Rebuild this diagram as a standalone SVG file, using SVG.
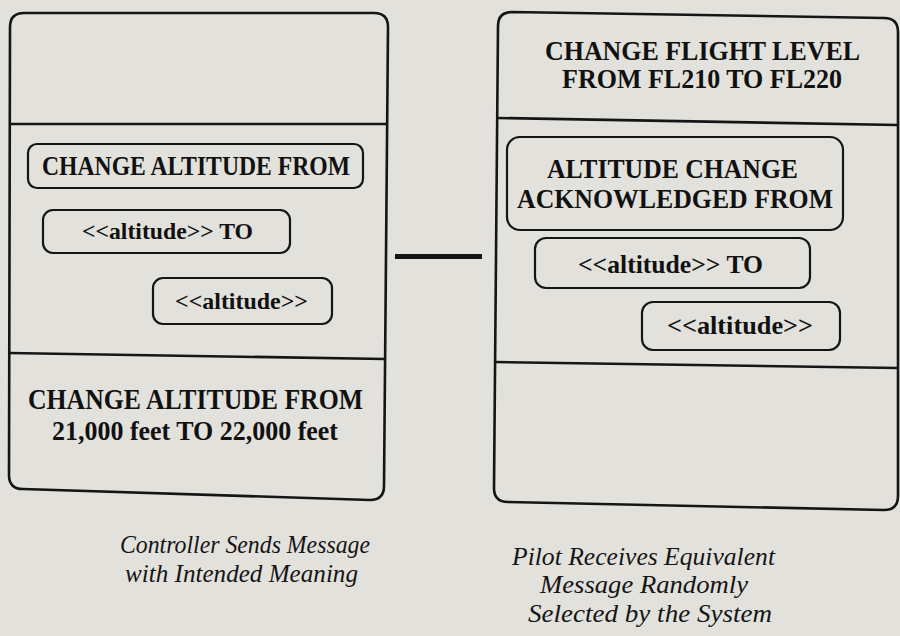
<svg xmlns="http://www.w3.org/2000/svg" width="900" height="636" viewBox="0 0 900 636">
<style>
.bg{fill:#e2e1dc}
.outer{fill:none;stroke:#151515;stroke-width:2.6;stroke-linejoin:round}
.div{stroke:#151515;stroke-width:2.6}
.inner{fill:none;stroke:#151515;stroke-width:2.2}
.b{font-family:"Liberation Serif","Times New Roman",serif;font-weight:bold;fill:#111;text-anchor:middle}
.cap{font-family:"Liberation Serif","Times New Roman",serif;font-style:italic;fill:#151515;text-anchor:middle;font-size:26px}
.conn{stroke:#151515;stroke-width:5}
</style>
<rect class="bg" x="0" y="0" width="900" height="636"/>
<g id="connectors">
<line class="conn" x1="395" y1="256.5" x2="482" y2="256.5"/>
</g>
<g id="controller-message">
<path class="outer" d="M 24,13 L 374,13 Q 388,13 388,27 L 384,486 Q 384,500 370,500 L 23,489 Q 9,489 9,475 L 10,27 Q 10,13 24,13 Z"/>
<line class="div" x1="10" y1="124" x2="388" y2="124"/>
<line class="div" x1="9" y1="353" x2="385" y2="359"/>
<text class="b" x="195.5" y="409" font-size="30" textLength="335" lengthAdjust="spacingAndGlyphs">CHANGE ALTITUDE FROM</text>
<text class="b" x="195" y="440" font-size="28" textLength="286" lengthAdjust="spacingAndGlyphs">21,000 feet TO 22,000 feet</text>
</g>
<g id="left-change-altitude-from">
<rect class="inner" x="28" y="144" width="335" height="44" rx="9"/>
<text class="b" x="196" y="175" font-size="27" textLength="308" lengthAdjust="spacingAndGlyphs">CHANGE ALTITUDE FROM</text>
</g>
<g id="left-altitude-to">
<rect class="inner" x="43" y="210" width="247" height="43" rx="10"/>
<text class="b" x="167.5" y="239" font-size="24" textLength="171" lengthAdjust="spacingAndGlyphs">&lt;&lt;altitude&gt;&gt; TO</text>
</g>
<g id="left-altitude">
<rect class="inner" x="153" y="278" width="179" height="46" rx="10"/>
<text class="b" x="241.5" y="309" font-size="24" textLength="133" lengthAdjust="spacingAndGlyphs">&lt;&lt;altitude&gt;&gt;</text>
</g>
<g id="pilot-message">
<path class="outer" d="M 512,12 L 884,18 Q 898,18 898,32 L 898,496 Q 898,510 884,510 L 508,502 Q 494,502 494,488 L 498,26 Q 498,12 512,12 Z"/>
<line class="div" x1="498" y1="118" x2="898" y2="125"/>
<line class="div" x1="495" y1="362" x2="898" y2="368"/>
<text class="b" x="702.5" y="60" font-size="27" textLength="315" lengthAdjust="spacingAndGlyphs">CHANGE FLIGHT LEVEL</text>
<text class="b" x="702" y="88" font-size="27" textLength="280" lengthAdjust="spacingAndGlyphs">FROM FL210 TO FL220</text>
</g>
<g id="right-acknowledged">
<rect class="inner" x="507" y="137" width="336" height="93" rx="13"/>
<text class="b" x="672.5" y="178" font-size="27" textLength="251" lengthAdjust="spacingAndGlyphs">ALTITUDE CHANGE</text>
<text class="b" x="675" y="208" font-size="27" textLength="316" lengthAdjust="spacingAndGlyphs">ACKNOWLEDGED FROM</text>
</g>
<g id="right-altitude-to">
<rect class="inner" x="535" y="238" width="275" height="50" rx="11"/>
<text class="b" x="670.5" y="273" font-size="25" textLength="185" lengthAdjust="spacingAndGlyphs">&lt;&lt;altitude&gt;&gt; TO</text>
</g>
<g id="right-altitude">
<rect class="inner" x="642" y="302" width="198" height="48" rx="11"/>
<text class="b" x="740" y="334" font-size="25" textLength="146" lengthAdjust="spacingAndGlyphs">&lt;&lt;altitude&gt;&gt;</text>
</g>
<g id="captions">
<text class="cap" x="245" y="553" textLength="250" lengthAdjust="spacingAndGlyphs">Controller Sends Message</text>
<text class="cap" x="241.5" y="582" textLength="233" lengthAdjust="spacingAndGlyphs">with Intended Meaning</text>
<text class="cap" x="643.5" y="565" textLength="263" lengthAdjust="spacingAndGlyphs">Pilot Receives Equivalent</text>
<text class="cap" x="644" y="593" textLength="208" lengthAdjust="spacingAndGlyphs">Message Randomly</text>
<text class="cap" x="650" y="622" textLength="244" lengthAdjust="spacingAndGlyphs">Selected by the System</text>
</g>
</svg>
